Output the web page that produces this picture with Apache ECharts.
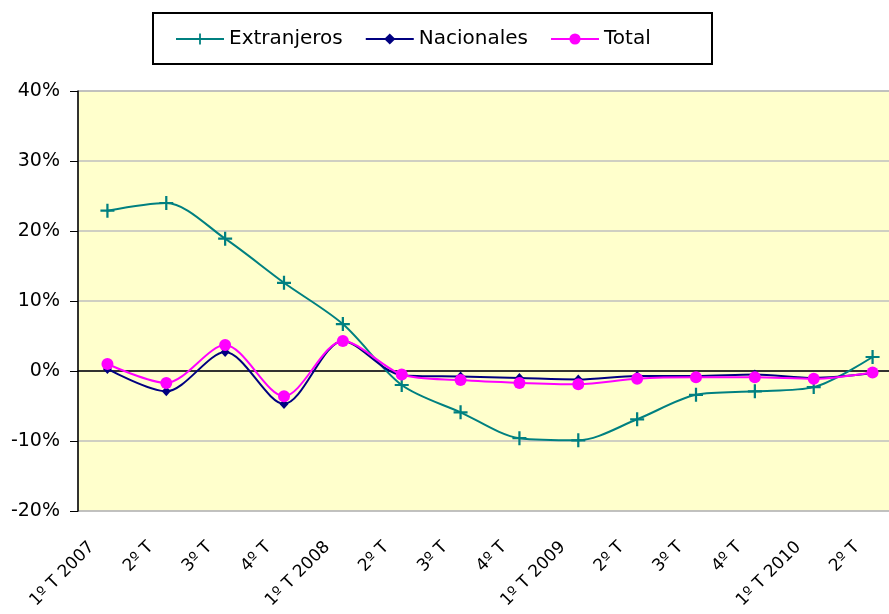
<!DOCTYPE html>
<html><head><meta charset="utf-8">
<script src="https://cdn.jsdelivr.net/npm/echarts@6/dist/echarts.min.js"></script>
<style>html,body{margin:0;padding:0;background:#fff}#c{width:889px;height:614px}</style>
</head><body><div id="c"></div>
<script>
const categories = ['1º T 2007','2º T','3º T','4º T','1º T 2008','2º T','3º T','4º T','1º T 2009','2º T','3º T','4º T','1º T 2010','2º T'];
const extranjeros = [22.9, 24.0, 18.9, 12.6, 6.7, -2.0, -5.9, -9.6, -9.9, -6.9, -3.4, -2.9, -2.3, 2.0];
const nacionales = [0.3, -2.9, 2.7, -4.7, 4.3, -0.6, -0.8, -1.0, -1.2, -0.7, -0.7, -0.5, -1.0, -0.3];
const total = [1.0, -1.7, 3.7, -3.6, 4.3, -0.5, -1.3, -1.7, -1.9, -1.1, -0.9, -0.9, -1.1, -0.2];
const yTicks = [-20, -10, 0, 10, 20, 30, 40];

const font = '"DejaVu Sans", Verdana, sans-serif';
const plus = 'path://M4.2,0h1.6v4.2h4.2v1.6h-4.2v4.2h-1.6v-4.2h-4.2v-1.6h4.2z';
const chart = echarts.init(document.getElementById('c'));
chart.setOption({
  animation: false,
  graphic: [{type:'rect', shape:{x:153,y:13,width:559,height:51}, style:{fill:'#fff',stroke:'#000',lineWidth:2}, z:-1}],
  legend: {
    top: 24, left: 170, itemWidth: 48, itemHeight: 14, itemGap: 22,
    textStyle: {fontFamily: font, fontSize: 20, color: '#000'},
    data: ['Extranjeros','Nacionales','Total']
  },
  grid: {left: 78, right: -13, top: 91, bottom: 103, outerBoundsMode: 'none', containLabel: false,
         show: true, backgroundColor: '#FFFFCC', borderColor: '#909090', borderWidth: 1},
  xAxis: {
    type: 'category', data: categories, boundaryGap: true,
    axisLine: {onZero: true, lineStyle: {color: '#000', width: 1.5}},
    axisTick: {show: false},
    axisLabel: {rotate: 45, fontFamily: font, fontSize: 17, color: '#000', margin: 18, interval: 0, padding: [0, 22, 0, 0]},
    splitLine: {show: false}
  },
  yAxis: {
    type: 'value', min: yTicks[0], max: yTicks[yTicks.length - 1], interval: 10,
    axisLine: {show: true, lineStyle: {color: '#000', width: 1.5}},
    axisTick: {show: true, length: 8, lineStyle: {color: '#000'}},
    axisLabel: {fontFamily: font, fontSize: 19, color: '#000', margin: 18, formatter: v => v + '%'},
    splitLine: {lineStyle: {color: '#BFBFBF', width: 1.5}}
  },
  series: [
    {name: 'Extranjeros', type: 'line', data: extranjeros, smooth: 0.3, symbol: plus, symbolSize: 14,
     lineStyle: {color: '#008080', width: 2}, itemStyle: {color: '#008080'}, z: 2},
    {name: 'Nacionales', type: 'line', data: nacionales, smooth: 0.3, symbol: 'diamond', symbolSize: [9,10],
     lineStyle: {color: '#000080', width: 2}, itemStyle: {color: '#000080'}, z: 3},
    {name: 'Total', type: 'line', data: total, smooth: 0.3, symbol: 'circle', symbolSize: 12,
     lineStyle: {color: '#FF00FF', width: 2}, itemStyle: {color: '#FF00FF'}, z: 4}
  ]
});
</script></body></html>
